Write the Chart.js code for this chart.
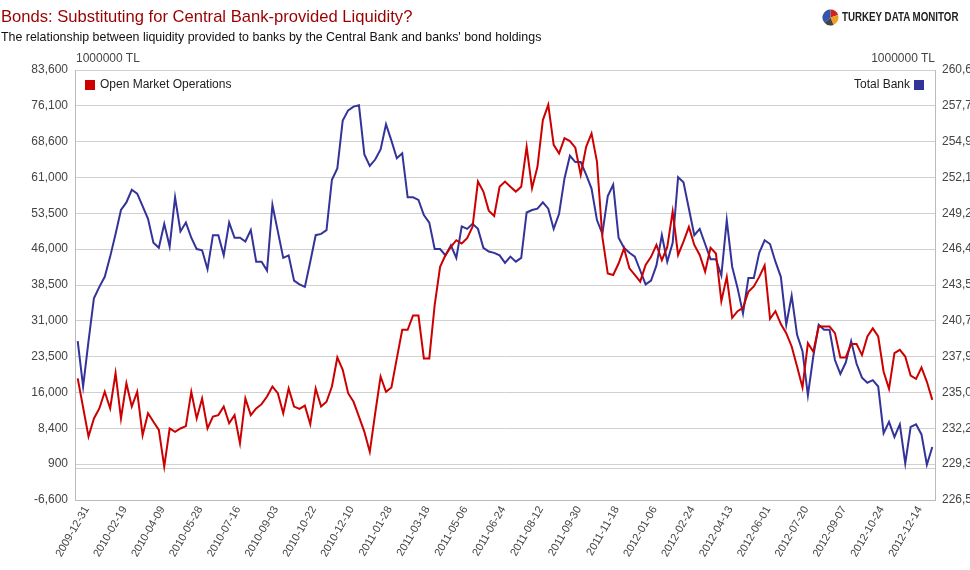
<!DOCTYPE html>
<html>
<head>
<meta charset="utf-8">
<script src="https://cdn.jsdelivr.net/npm/chart.js@4.4.1/dist/chart.umd.min.js"></script>
<style>
  body { margin: 0; background: #fff; overflow: hidden; font-family: 'Liberation Sans', Arial, sans-serif; }
  #wrap { position: relative; width: 970px; height: 570px; }
  #chart { position: absolute; left: 0; top: 0; }
  .title { position: absolute; left: 1px; top: 7px; font-size: 16.6px; color: #990000; white-space: nowrap; }
  .sub { position: absolute; left: 1px; top: 30px; font-size: 12.4px; color: #111; white-space: nowrap; }
  .unit { position: absolute; top: 51px; font-size: 12px; color: #444; white-space: nowrap; }
  .logo { position: absolute; left: 822px; top: 8px; height: 18px; display: flex; align-items: center; white-space: nowrap; }
  .logo span { display: inline-block; margin-left: 3px; font-weight: bold; font-size: 12.5px; color: #222;
    transform: scaleX(0.78); transform-origin: left center; }
</style>
</head>
<body>
<div id="wrap">
  <canvas id="chart" width="970" height="570"></canvas>
  <div class="title">Bonds: Substituting for Central Bank-provided Liquidity?</div>
  <div class="sub">The relationship between liquidity provided to banks by the Central Bank and banks' bond holdings</div>
  <div class="unit" style="left:76px">1000000 TL</div>
  <div class="unit" style="right:35px">1000000 TL</div>
  <div class="logo">
    <svg width="17" height="17" viewBox="-8.5 -8.5 17 17">
      <path d="M0 0 L0 -8 A8 8 0 0 1 7.6 -2.5 Z" fill="#cc2222"/>
      <path d="M0 0 L7.6 -2.5 A8 8 0 0 1 3 7.4 Z" fill="#f0a020"/>
      <path d="M0 0 L3 7.4 A8 8 0 0 1 -6 5.3 Z" fill="#444"/>
      <path d="M0 0 L-6 5.3 A8 8 0 0 1 0 -8 Z" fill="#3355aa"/>
    </svg>
    <span>TURKEY DATA MONITOR</span>
  </div>
</div>
<script>
// weekly dates, a label shown every 7th week
const tickLabels = ['2009-12-31', '2010-02-19', '2010-04-09', '2010-05-28', '2010-07-16', '2010-09-03',
  '2010-10-22', '2010-12-10', '2011-01-28', '2011-03-18', '2011-05-06', '2011-06-24', '2011-08-12',
  '2011-09-30', '2011-11-18', '2012-01-06', '2012-02-24', '2012-04-13', '2012-06-01', '2012-07-20',
  '2012-09-07', '2012-10-24', '2012-12-14'];

// Open Market Operations (left axis, 1000000 TL)
const omo = [
  18900, 12800, 6700, 10500, 12600, 16100, 12600, 20000, 10500, 17900,
  13000, 16100, 7000, 11600, 9800, 8100, 400, 8400, 7700, 8400,
  8900, 16100, 10500, 14700, 8400, 10900, 11200, 13000, 9500, 11200,
  5300, 14700, 11200, 12600, 13500, 15100, 17200, 15800, 11600, 16800,
  13000, 12500, 13200, 9300, 16800, 13000, 14000, 17200, 23300, 20700,
  15800, 14000, 10900, 7700, 3500, 11600, 19300, 16100, 17000, 23100,
  29100, 29100, 32100, 32100, 23100, 23100, 34300, 42300, 44800, 46500,
  47900, 47200, 48300, 50700, 60200, 58100, 54100, 53000, 59100, 60200,
  59100, 58100, 59100, 67500, 58800, 63300, 73100, 76300, 67900, 66100,
  69300, 68700, 67300, 61600, 67500, 70300, 64400, 48600, 40900, 40600,
  43000, 46200, 42000, 40600, 39200, 42700, 44400, 46900, 43700, 46500,
  53900, 44800, 47600, 50700, 46900, 44800, 41300, 46300, 45100, 35100,
  40200, 31600, 33000, 33700, 37100, 38200, 40200, 42600, 31400, 33000,
  30300, 28400, 25600, 21400, 17000, 26300, 24500, 29800, 29800, 29800,
  28400, 23300, 23300, 26100, 26100, 23800, 27700, 29400, 27700, 20300,
  16700, 24200, 24900, 23500, 19500, 18800, 21200, 18200, 14400
];

// Total Bank bond holdings (right axis, 1000000 TL)
const totalBank = [
  239100, 235500, 239100, 242500, 243400, 244200, 245800, 247600, 249500, 250100,
  251100, 250800, 249800, 248800, 246900, 246500, 248400, 246600, 250500, 247800,
  248500, 247300, 246400, 246300, 244800, 247500, 247500, 245900, 248500, 247300,
  247300, 247000, 247900, 245400, 245400, 244700, 249900, 247800, 245700, 245900,
  243900, 243600, 243400, 245400, 247500, 247600, 247900, 251900, 252800, 256600,
  257400, 257700, 257800, 253900, 253000, 253500, 254300, 256300, 255000, 253600,
  254000, 250500, 250500, 250300, 249100, 248500, 246400, 246400, 245900, 246700,
  245700, 248200, 248000, 248400, 248000, 246500, 246200, 246100, 245900, 245300,
  245800, 245400, 245700, 249300, 249500, 249600, 250100, 249600, 248000, 249200,
  252000, 253800, 253300, 253300, 252300, 251200, 248700, 247600, 250600, 251500,
  247300, 246500, 246100, 245800, 244700, 243600, 243900, 245100, 247500, 245400,
  246900, 252100, 251700, 249600, 247500, 248000, 246800, 245600, 245600, 244300,
  248700, 245000, 243300, 241300, 244100, 244100, 246100, 247100, 246800, 245400,
  244200, 240400, 242700, 239600, 238300, 234800, 237900, 240400, 240000, 240000,
  237600, 236500, 237400, 239100, 237300, 236200, 235800, 236000, 235500, 231800,
  232700, 231500, 232500, 229400, 232300, 232500, 231700, 229300, 230700
];

const leftTickLabels = ['-6,600', '900', '8,400', '16,000', '23,500', '31,000', '38,500',
  '46,000', '53,500', '61,000', '68,600', '76,100', '83,600'];
const rightTickLabels = ['226,500', '229,300', '232,200', '235,000', '237,900', '240,700', '243,500',
  '246,400', '249,200', '252,100', '254,900', '257,700', '260,600'];

const leftMin = -6600, leftMax = 83600;
const rightMin = 226500, rightMax = 260600;

const labels = omo.map((v, i) => (i % 7 === 0 && tickLabels[i / 7]) ? tickLabels[i / 7] : '');

function evenTicks(min, max, n) {
  const out = [];
  for (let i = 0; i < n; i++) out.push({ value: min + i * (max - min) / (n - 1) });
  return out;
}
function labelFor(value, min, max, list) {
  const step = (max - min) / (list.length - 1);
  const k = (value - min) / step;
  return Math.abs(k - Math.round(k)) < 1e-6 ? list[Math.round(k)] : '';
}

// legend boxes drawn inside the plot area
const innerLegend = {
  id: 'innerLegend',
  afterDraw(chart) {
    const { ctx, chartArea } = chart;
    const ds = chart.data.datasets;
    ctx.save();
    ctx.font = '12px "Liberation Sans", Arial, sans-serif';
    ctx.textBaseline = 'middle';
    const y = chartArea.top + 15;
    ctx.fillStyle = ds[0].borderColor;
    ctx.fillRect(chartArea.left + 10, y - 5, 10, 10);
    ctx.fillStyle = '#222';
    ctx.textAlign = 'left';
    ctx.fillText(ds[0].label, chartArea.left + 25, y);
    ctx.fillStyle = ds[1].borderColor;
    ctx.fillRect(chartArea.right - 21, y - 5, 10, 10);
    ctx.fillStyle = '#222';
    ctx.textAlign = 'right';
    ctx.fillText(ds[1].label, chartArea.right - 25, y);
    ctx.restore();
  }
};

Chart.defaults.font.family = '"Liberation Sans", Arial, sans-serif';
Chart.defaults.font.size = 12;
Chart.defaults.color = '#444';

new Chart(document.getElementById('chart'), {
  type: 'line',
  data: {
    labels: labels,
    datasets: [
      { label: 'Open Market Operations', data: omo, yAxisID: 'yL', borderColor: '#cc0000', borderWidth: 2, pointRadius: 0, tension: 0 },
      { label: 'Total Bank', data: totalBank, yAxisID: 'yR', borderColor: '#333399', borderWidth: 2, pointRadius: 0, tension: 0 }
    ]
  },
  options: {
    responsive: false,
    animation: false,
    layout: { padding: { top: 70, left: 0, right: 0, bottom: 0 } },
    plugins: { legend: { display: false }, tooltip: { enabled: false } },
    scales: {
      x: {
        offset: true,
        grid: { display: false },
        border: { display: true, color: '#bbb' },
        ticks: { autoSkip: false, maxRotation: 60, minRotation: 60, padding: -4, labelOffset: 9,
          color: '#444', font: { size: 11 } },
        afterFit(scale) { scale.height = 70; }
      },
      yL: {
        position: 'left',
        min: leftMin, max: leftMax,
        afterBuildTicks(scale) {
          const t = evenTicks(leftMin, leftMax, leftTickLabels.length);
          t.push({ value: 0 });
          t.sort((a, b) => a.value - b.value);
          scale.ticks = t;
        },
        grid: { color: '#d0d0d0', drawTicks: false, lineWidth: 1 },
        border: { display: true, color: '#bbb' },
        ticks: { padding: 7, color: '#444', callback: v => labelFor(v, leftMin, leftMax, leftTickLabels) },
        afterFit(scale) { scale.width = 75; }
      },
      yR: {
        position: 'right',
        min: rightMin, max: rightMax,
        afterBuildTicks(scale) { scale.ticks = evenTicks(rightMin, rightMax, rightTickLabels.length); },
        grid: { display: false, drawTicks: false },
        border: { display: true, color: '#bbb' },
        ticks: { padding: 7, color: '#444', callback: v => labelFor(v, rightMin, rightMax, rightTickLabels) },
        afterFit(scale) { scale.width = 35; }
      }
    }
  },
  plugins: [innerLegend]
});
</script>
</body>
</html>
